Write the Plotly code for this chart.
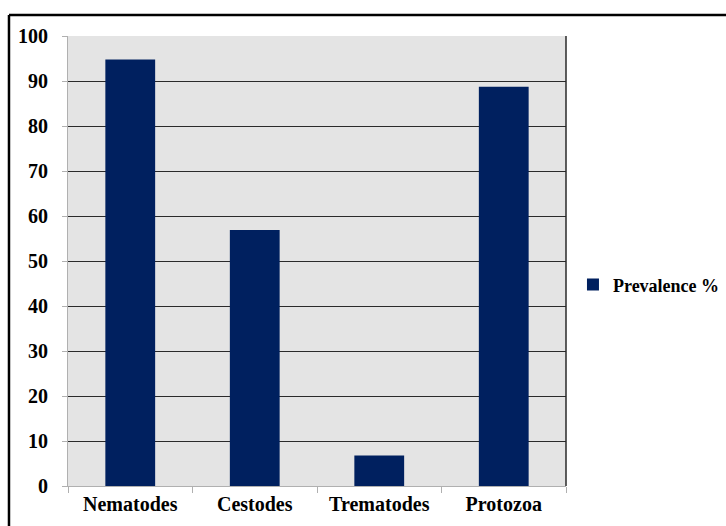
import plotly.graph_objects as go

# Parasite groups and their prevalence (%)
categories = ["Nematodes", "Cestodes", "Trematodes", "Protozoa"]
prevalence = [94.8, 56.9, 6.8, 88.7]
y_ticks = [0, 10, 20, 30, 40, 50, 60, 70, 80, 90, 100]

BAR_COLOR = "#00205f"
FONT = "Liberation Serif"

fig = go.Figure()
fig.add_trace(go.Bar(
    x=categories,
    y=prevalence,
    name="<b>Prevalence %</b>",
    marker=dict(color=BAR_COLOR, line=dict(width=0)),
    showlegend=True,
))

fig.update_layout(
    width=726,
    height=526,
    margin=dict(l=68, r=160, t=36, b=40, autoexpand=False),
    paper_bgcolor="white",
    plot_bgcolor="#e4e4e4",
    bargap=0.6,
    font=dict(family=FONT, size=20, color="black"),
    showlegend=True,
    legend=dict(
        x=1.014, y=0.447, xanchor="left", yanchor="middle",
        font=dict(family=FONT, size=18, color="black"),
        itemwidth=30,
        bgcolor="rgba(0,0,0,0)",
    ),
    xaxis=dict(
        showgrid=False,
        showline=True, linecolor="#b0b0b0", linewidth=1,
        ticks="outside", ticklen=6, tickcolor="#b0b0b0",
        tickson="boundaries",
        tickfont=dict(family=FONT, size=20, color="black"),
        tickvals=categories,
        ticktext=[f"<b>{c}</b>" for c in categories],
        zeroline=False,
    ),
    yaxis=dict(
        range=[0, 100],
        tickvals=y_ticks,
        ticktext=[f"<b>{v}</b>" for v in y_ticks],
        tickfont=dict(family=FONT, size=20, color="black"),
        showgrid=True, gridcolor="#2a2a2a", gridwidth=1,
        showline=True, linecolor="#b0b0b0", linewidth=1,
        ticks="outside", ticklen=5, tickcolor="#b0b0b0",
        ticklabelstandoff=10,
        zeroline=False,
    ),
    shapes=[
        # right edge of plot area
        dict(type="line", xref="paper", yref="paper", x0=1, x1=1, y0=0, y1=1,
             line=dict(color="#2a2a2a", width=1.5)),
        # outer chart frame (top and left edges)
        dict(type="line", xref="paper", yref="paper", x0=-0.1185, x1=1.4,
             y0=1.0467, y1=1.0467, line=dict(color="black", width=2.5)),
        dict(type="line", xref="paper", yref="paper", x0=-0.1185, x1=-0.1185,
             y0=-0.2, y1=1.0467, line=dict(color="black", width=2.5)),
    ],
)

fig.write_html("out.html")
